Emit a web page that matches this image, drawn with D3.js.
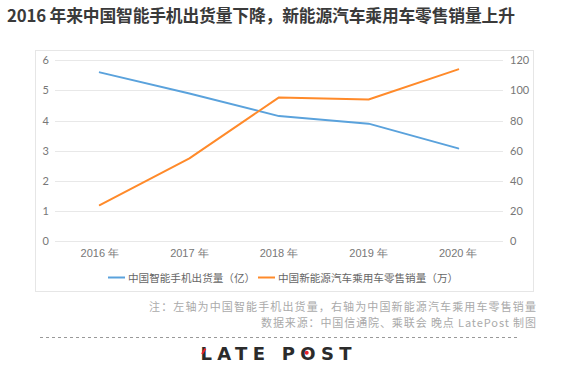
<!DOCTYPE html>
<html><head><meta charset="utf-8">
<script src="https://cdn.jsdelivr.net/npm/d3@7"></script>
<style>
html,body{margin:0;padding:0;background:#fff;}
svg{display:block;font-family:"Noto Sans CJK SC","Noto Sans",sans-serif;}
</style></head>
<body><svg id="c" width="569" height="369"></svg>
<script>
const title = "2016 年来中国智能手机出货量下降，新能源汽车乘用车零售销量上升";
const categories = ["2016 年","2017 年","2018 年","2019 年","2020 年"];
const phoneShipments = [5.6, 4.9, 4.15, 3.9, 3.08];
const nevSales = [24, 55, 95.4, 94, 114];
const leftTicks = [0,1,2,3,4,5,6];
const rightTicks = [0,20,40,60,80,100,120];
const seriesNames = ["中国智能手机出货量（亿）","中国新能源汽车乘用车零售销量（万）"];
const notes = ["注：左轴为中国智能手机出货量，右轴为中国新能源汽车乘用车零售销量","数据来源：中国信通院、乘联会 晚点 LatePost 制图"];
const colors = ["#5AA2DC","#FF8A2A"];

const svg = d3.select("#c");
const plotL=55, plotR=503, plotT=60.3, plotB=241.3;

// title
svg.append("text").attr("x",7).attr("y",21.5).attr("font-size",16.8).attr("font-weight","bold")
  .attr("fill","#3a3a3a").attr("textLength",508).attr("lengthAdjust","spacing").text(title);

// chart frame
svg.append("rect").attr("x",35.5).attr("y",50.5).attr("width",498).attr("height",241)
  .attr("fill","none").attr("stroke","#e6e6e6").attr("stroke-width",1);

const x = d3.scaleBand().domain(categories).range([plotL,plotR]);
const yL = d3.scaleLinear().domain([0,6]).range([plotB,plotT]);
const yR = d3.scaleLinear().domain([0,120]).range([plotB,plotT]);

// grid
svg.append("g").selectAll("line").data(leftTicks).join("line")
  .attr("x1",plotL).attr("x2",plotR).attr("y1",d=>Math.round(yL(d))+0.5).attr("y2",d=>Math.round(yL(d))+0.5)
  .attr("stroke","#e8e8e8").attr("stroke-width",1);

// left axis
const axL = svg.append("g").attr("transform",`translate(${plotL-6},0)`)
  .call(d3.axisLeft(yL).tickValues(leftTicks).tickFormat(d3.format("d")).tickSize(0).tickPadding(0));
axL.select(".domain").remove();
axL.selectAll("text").attr("fill","#777").attr("font-size",11).attr("font-family","Lato, 'Open Sans', sans-serif");

// right axis
const axR = svg.append("g").attr("transform",`translate(${plotR+7},0)`)
  .call(d3.axisRight(yR).tickValues(rightTicks).tickFormat(d3.format("d")).tickSize(0).tickPadding(0));
axR.select(".domain").remove();
axR.selectAll("text").attr("fill","#777").attr("font-size",11).attr("font-family","Lato, 'Open Sans', sans-serif");

// x axis
const axX = svg.append("g").attr("transform",`translate(0,${plotB+6})`)
  .call(d3.axisBottom(x).tickSize(0).tickPadding(0));
axX.select(".domain").remove();
axX.selectAll("text").attr("fill","#777").attr("font-size",11).attr("dy","0.9em");

// lines
const cx = d=>x(d)+x.bandwidth()/2;
const lineL = d3.line().x((d,i)=>cx(categories[i])).y(d=>yL(d));
const lineR = d3.line().x((d,i)=>cx(categories[i])).y(d=>yR(d));
svg.append("path").attr("d",lineL(phoneShipments)).attr("fill","none").attr("stroke",colors[0])
  .attr("stroke-width",2).attr("stroke-linejoin","round").attr("stroke-linecap","round");
svg.append("path").attr("d",lineR(nevSales)).attr("fill","none").attr("stroke",colors[1])
  .attr("stroke-width",2).attr("stroke-linejoin","round").attr("stroke-linecap","round");

// legend
const legX=[108,258];
seriesNames.forEach((n,i)=>{
  svg.append("line").attr("x1",legX[i]).attr("x2",legX[i]+17).attr("y1",277.5).attr("y2",277.5)
    .attr("stroke",colors[i]).attr("stroke-width",2);
  svg.append("text").attr("x",legX[i]+20).attr("y",281.5).attr("font-size",10.6).attr("fill","#666").text(n);
});

// notes
const noteLen=[387,275];
notes.forEach((t,i)=>{
  svg.append("text").attr("x",536).attr("y",311+i*16).attr("text-anchor","end")
    .attr("font-size",11).attr("fill","#aaa")
    .attr("textLength",noteLen[i]).attr("lengthAdjust","spacing").text(t);
});

// dotted line
svg.append("line").attr("x1",40).attr("x2",520).attr("y1",337.5).attr("y2",337.5)
  .attr("stroke","#999").attr("stroke-width",1).attr("stroke-dasharray","3,3");

// logo
svg.append("text").attr("x",200.5).attr("y",360).attr("font-size",18).attr("font-weight","bold")
  .attr("font-family","'DejaVu Sans','Liberation Sans',sans-serif")
  .attr("textLength",151).attr("lengthAdjust","spacing")
  .attr("fill","#2b2b2b").text("LATE POST");
svg.append("line").attr("x1",202).attr("y1",354).attr("x2",205.5).attr("y2",348.5)
  .attr("stroke","#e8222a").attr("stroke-width",2);
svg.append("circle").attr("cx",306.7).attr("cy",352.7).attr("r",2).attr("fill","#e8222a");
</script></body></html>
